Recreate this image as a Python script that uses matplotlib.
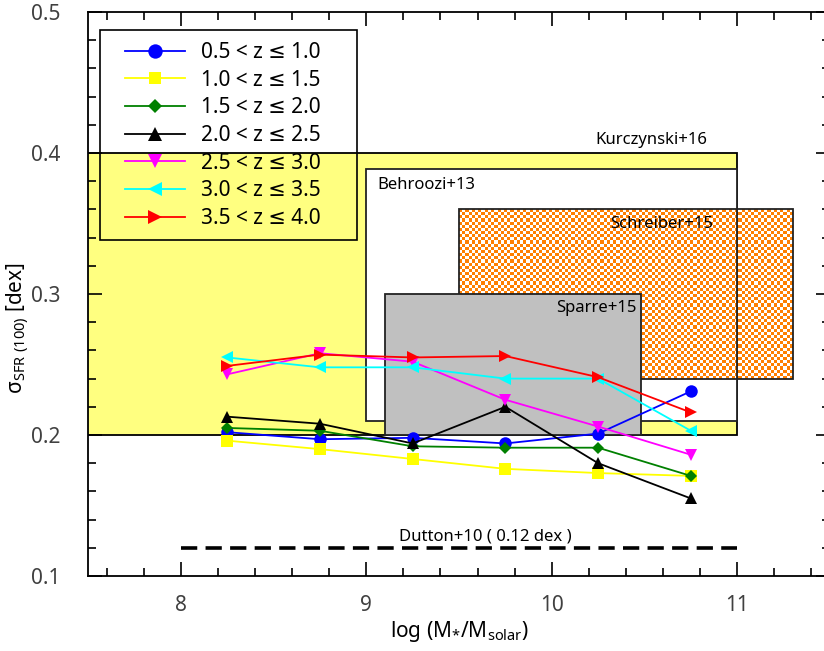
import numpy as np
import matplotlib
matplotlib.use("Agg")
import matplotlib.pyplot as plt
from matplotlib.patches import Rectangle

plt.rcParams['font.family'] = ['Noto Sans', 'DejaVu Sans']
plt.rcParams['mathtext.default'] = 'regular'

# stellar mass bins
log_mass = [8.25, 8.75, 9.25, 9.75, 10.25, 10.75]

# scatter per redshift bin
sig_05_10 = [0.202, 0.197, 0.198, 0.194, 0.201, 0.231]
sig_10_15 = [0.196, 0.190, 0.183, 0.176, 0.173, 0.171]
sig_15_20 = [0.205, 0.203, 0.192, 0.191, 0.191, 0.171]
sig_20_25 = [0.213, 0.208, 0.194, 0.220, 0.180, 0.155]
sig_25_30 = [0.243, 0.258, 0.252, 0.225, 0.206, 0.186]
sig_30_35 = [0.255, 0.248, 0.248, 0.240, 0.240, 0.203]
sig_35_40 = [0.249, 0.257, 0.255, 0.256, 0.241, 0.216]

z_labels = ['0.5 < z ≤ 1.0', '1.0 < z ≤ 1.5', '1.5 < z ≤ 2.0', '2.0 < z ≤ 2.5',
            '2.5 < z ≤ 3.0', '3.0 < z ≤ 3.5', '3.5 < z ≤ 4.0']

# literature ranges: (x0, x1, y0, y1)
kurczynski = (7.0, 11.0, 0.2, 0.4)
behroozi = (9.0, 11.0, 0.21, 0.389)
schreiber = (9.5, 11.3, 0.24, 0.36)
sparre = (9.1, 10.48, 0.2, 0.3)
dutton_x = [8.0, 11.0]
dutton_y = 0.12

fig = plt.figure(figsize=(8.24, 6.51), dpi=100)
ax = fig.add_axes([88 / 824, 1 - 576 / 651, 742 / 824, 564 / 651])

# Kurczynski+16 (yellow)
x0, x1, y0, y1 = kurczynski
ax.add_patch(Rectangle((x0, y0), x1 - x0, y1 - y0, facecolor='#ffff80',
                       edgecolor='black', lw=1.3, zorder=1))
ax.text(10.84, 0.409, 'Kurczynski+16', ha='right', va='center', fontsize=12, zorder=6)

# Behroozi+13 (white box)
x0, x1, y0, y1 = behroozi
ax.add_patch(Rectangle((x0, y0), x1 - x0, y1 - y0, facecolor='white',
                       edgecolor='none', zorder=2))
ax.add_patch(Rectangle((x0, y0), x1 - x0, y1 - y0, fill=False,
                       edgecolor='#222222', lw=1.3, zorder=2.5))
ax.text(9.06, 0.377, 'Behroozi+13', ha='left', va='center', fontsize=12, zorder=6)

# Schreiber+15 (orange checker, transparent gaps)
x0, x1, y0, y1 = schreiber
nx, ny = 104, 54
chk = (np.add.outer(np.arange(ny), np.arange(nx)) % 2).astype(float)
rgba = np.zeros((ny, nx, 4))
rgba[..., 0] = 1.0
rgba[..., 1] = 0.5
rgba[..., 3] = chk
ax.imshow(rgba, extent=(x0, x1, y0, y1), origin='lower', aspect='auto',
          interpolation='nearest', zorder=2.2)
ax.add_patch(Rectangle((x0, y0), x1 - x0, y1 - y0, fill=False,
                       edgecolor='#222222', lw=1.3, zorder=2.3))
ax.text(10.87, 0.350, 'Schreiber+15', ha='right', va='center', fontsize=12, zorder=6)

# Sparre+15 (grey)
x0, x1, y0, y1 = sparre
ax.add_patch(Rectangle((x0, y0), x1 - x0, y1 - y0, facecolor='#c0c0c0',
                       edgecolor='#222222', lw=1.3, zorder=3))
ax.text(10.46, 0.290, 'Sparre+15', ha='right', va='center', fontsize=12, zorder=6)

# Dutton+10
ax.plot(dutton_x, [dutton_y, dutton_y], color='black', lw=2.6,
        dashes=(4.5, 2.3), zorder=4)
ax.text(9.64, 0.128, 'Dutton+10 ( 0.12 dex )', ha='center', va='center',
        fontsize=12, zorder=6)

series = [
    (sig_05_10, 'blue', 'o', 9),
    (sig_10_15, 'yellow', 's', 8),
    (sig_15_20, 'green', 'D', 6),
    (sig_20_25, 'black', '^', 9),
    (sig_25_30, 'magenta', 'v', 9),
    (sig_30_35, 'cyan', '<', 9),
    (sig_35_40, 'red', '>', 9),
]
for (vals, col, mk, ms), lab in zip(series, z_labels):
    ax.plot(log_mass, vals, color=col, marker=mk, ms=ms, lw=1.3,
            markeredgewidth=0, label=lab, zorder=5)

# legend box drawn separately so its padding matches
ax.add_patch(Rectangle((0.0162, 0.5957), 0.3463, 0.3724, transform=ax.transAxes,
                       fill=False, edgecolor='black', lw=1.2, zorder=7))
leg = ax.legend(loc='upper left', bbox_to_anchor=(0.0499, 0.947),
                borderaxespad=0, fontsize=15, handlelength=2.9,
                labelspacing=0.32, frameon=False, borderpad=0,
                handletextpad=0.75, markerscale=1.15)
leg.set_zorder(7)

ax.set_xlim(7.5, 11.5)
ax.set_ylim(0.1, 0.5)
ax.set_xticks([8, 9, 10, 11])
ax.set_xticks(np.arange(7.6, 11.5, 0.2), minor=True)
ax.set_yticks([0.1, 0.2, 0.3, 0.4, 0.5])
ax.set_yticks(np.arange(0.1, 0.5, 0.02), minor=True)
ax.tick_params(which='both', direction='in', top=True, right=True,
               width=1.2, labelsize=15, labelcolor='#404040')
ax.tick_params(which='major', length=10)
ax.tick_params(which='minor', length=6)
ax.tick_params(axis='x', which='both', pad=14)
ax.tick_params(axis='y', which='both', pad=20)
for sp in ax.spines.values():
    sp.set_linewidth(1.3)

ax.set_xlabel('log (M$_{*}$/M$_{solar}$)', fontsize=15, va='center')
ax.set_ylabel(r'$\sigma_{SFR\ (100)}$ [dex]', fontsize=15, va='center')
ax.xaxis.set_label_coords(0.5, -0.099)
ax.yaxis.set_label_coords(-0.094, 0.44)

fig.savefig('out.png', dpi=100)
